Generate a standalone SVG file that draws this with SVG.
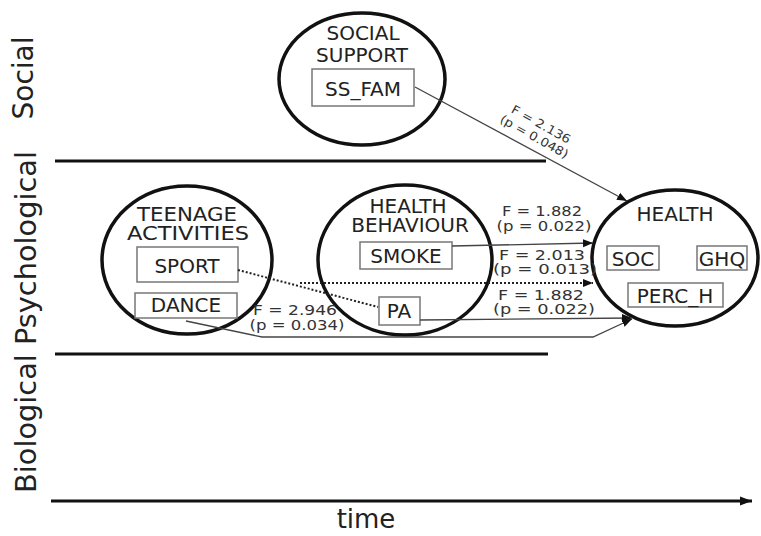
<svg xmlns="http://www.w3.org/2000/svg" width="761" height="536" viewBox="0 0 761 536">
<style>
text{font-family:"DejaVu Sans","Liberation Sans",sans-serif;fill:#222}
.big{font-size:28px}
.t{font-size:20px;text-anchor:middle}
.lab{font-size:13.5px;text-anchor:middle;fill:#333}
.rl{font-size:12px;text-anchor:middle;fill:#333}
.ell{fill:none;stroke:#111;stroke-width:3.5}
.box{fill:#fff;stroke:#777;stroke-width:1.5}
.sep{stroke:#111;stroke-width:3;fill:none}
.con{fill:none;stroke:#444;stroke-width:1.3}
.dot{fill:none;stroke:#222;stroke-width:2;stroke-dasharray:2 2}
</style>
<defs>
<marker id="ah" markerUnits="userSpaceOnUse" markerWidth="10" markerHeight="10" viewBox="0 0 10 10" refX="10" refY="5" orient="auto">
<path d="M0,1 L10,5 L0,9 Z" fill="#111"/>
</marker>
<marker id="ahb" markerUnits="userSpaceOnUse" markerWidth="12" markerHeight="10" viewBox="0 0 12 10" refX="12" refY="5" orient="auto">
<path d="M0,0.5 L12,5 L0,9.5 Z" fill="#111"/>
</marker>
</defs>

<g id="axes">
<text class="big" transform="translate(33,78) rotate(-90)" text-anchor="middle">Social</text>
<text class="big" transform="translate(36,322) rotate(-90)" text-anchor="middle" textLength="342" lengthAdjust="spacingAndGlyphs">Biological Psychological</text>
<line class="sep" x1="55" y1="161" x2="546" y2="161"/>
<line class="sep" x1="55" y1="354" x2="548" y2="354"/>
<line class="sep" x1="51" y1="501" x2="752" y2="501" marker-end="url(#ahb)"/>
<text class="big" x="366" y="528" text-anchor="middle" style="font-size:26px">time</text>
</g>

<g id="social-support">
<ellipse class="ell" cx="362" cy="79" rx="83" ry="66"/>
<text class="t" x="363" y="40">SOCIAL</text>
<text class="t" x="362" y="62">SUPPORT</text>
<rect class="box" x="312" y="69" width="102" height="37"/>
<text class="t" x="363" y="96">SS_FAM</text>
</g>

<g id="teenage-activities">
<ellipse class="ell" cx="187" cy="260" rx="85" ry="74"/>
<text class="t" x="187" y="221" style="font-size:19.5px" textLength="100" lengthAdjust="spacingAndGlyphs">TEENAGE</text>
<text class="t" x="188" y="240" style="font-size:19.5px" textLength="122" lengthAdjust="spacingAndGlyphs">ACTIVITIES</text>
<rect class="box" x="137" y="247" width="101" height="35"/>
<text class="t" x="187" y="273">SPORT</text>
<rect class="box" x="135" y="293" width="102" height="25"/>
<text class="t" x="186" y="312">DANCE</text>
</g>

<g id="health-behaviour">
<ellipse class="ell" cx="405" cy="260" rx="87" ry="75"/>
<text class="t" x="408" y="213">HEALTH</text>
<text class="t" x="410" y="232">BEHAVIOUR</text>
<rect class="box" x="360" y="242" width="92" height="27"/>
<text class="t" x="406" y="263">SMOKE</text>
<rect class="box" x="379" y="297" width="41" height="28"/>
<text class="t" x="399" y="318">PA</text>
</g>

<g id="health">
<ellipse class="ell" cx="675" cy="258" rx="83" ry="68"/>
<text class="t" x="675" y="221">HEALTH</text>
<rect class="box" x="607" y="246" width="52" height="24"/>
<text class="t" x="633" y="266">SOC</text>
<rect class="box" x="697" y="246" width="50" height="24"/>
<text class="t" x="722" y="266">GHQ</text>
<rect class="box" x="628" y="283" width="95" height="24"/>
<text class="t" x="675" y="303">PERC_H</text>
</g>

<g id="connectors">
<path class="con" d="M415,87 L627,201" marker-end="url(#ah)"/>
<path class="con" d="M452,246 L593,243" marker-end="url(#ah)"/>
<path class="dot" d="M238,270 L378,307"/>
<path class="dot" d="M300,283 L593,283" marker-end="url(#ah)"/>
<path class="con" d="M420,320 L632,318" marker-end="url(#ah)"/>
<path class="con" d="M186,321 L262,337 L593,337 L632,319" marker-end="url(#ah)"/>
</g>

<g id="labels">
<g transform="translate(539,128) rotate(29)">
<text class="rl" x="0" y="0" textLength="66" lengthAdjust="spacingAndGlyphs">F = 2.136</text>
<text class="rl" x="0" y="14" textLength="76" lengthAdjust="spacingAndGlyphs">(p = 0.048)</text>
</g>
<text class="lab" x="542" y="216" textLength="80" lengthAdjust="spacingAndGlyphs">F = 1.882</text>
<text class="lab" x="544" y="231" textLength="95" lengthAdjust="spacingAndGlyphs">(p = 0.022)</text>
<text class="lab" x="542" y="260" textLength="86" lengthAdjust="spacingAndGlyphs">F = 2.013</text>
<text class="lab" x="545" y="274" textLength="104" lengthAdjust="spacingAndGlyphs">(p = 0.013)</text>
<text class="lab" x="541" y="300" textLength="86" lengthAdjust="spacingAndGlyphs">F = 1.882</text>
<text class="lab" x="544" y="314" textLength="102" lengthAdjust="spacingAndGlyphs">(p = 0.022)</text>
<text class="lab" x="295" y="315" textLength="84" lengthAdjust="spacingAndGlyphs">F = 2.946</text>
<text class="lab" x="297" y="330" textLength="95" lengthAdjust="spacingAndGlyphs">(p = 0.034)</text>
</g>
</svg>
